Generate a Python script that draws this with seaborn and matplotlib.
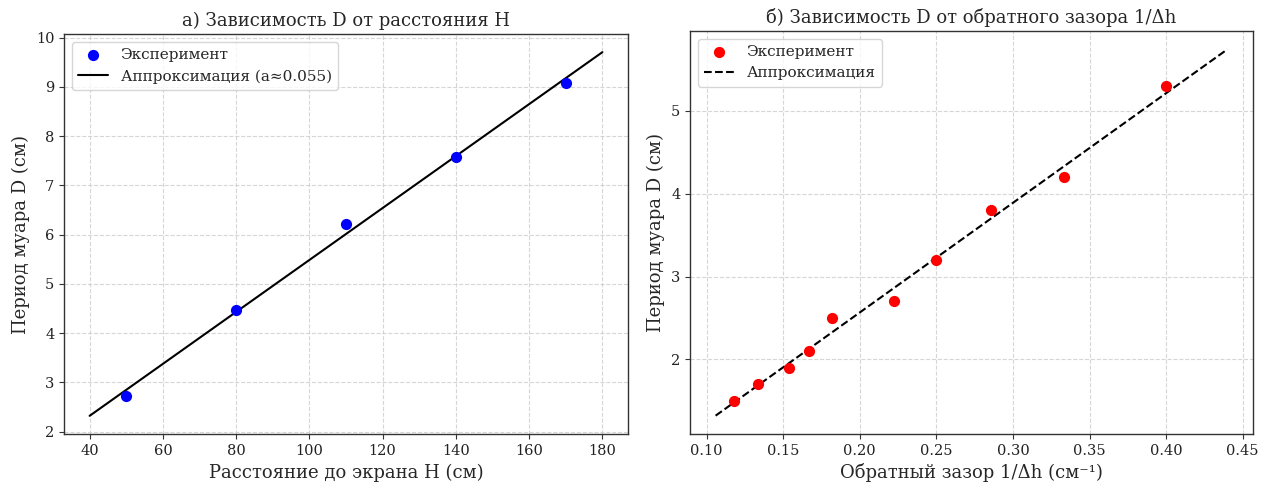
import numpy as np
import pandas as pd
import matplotlib
matplotlib.use("Agg")
import matplotlib.pyplot as plt
import seaborn as sns

# (а) period vs screen distance
distance_h = [50, 80, 110, 140, 170]
period_a = [2.73, 4.46, 6.21, 7.58, 9.08]

# (б) period vs inverse gap
inv_gap = [1 / 8.5, 1 / 7.5, 1 / 6.5, 1 / 6.0, 1 / 5.5, 1 / 4.5, 1 / 4.0, 1 / 3.5, 1 / 3.0, 1 / 2.5]
period_b = [1.5, 1.7, 1.9, 2.1, 2.5, 2.7, 3.2, 3.8, 4.2, 5.3]

sns.set_theme(style="ticks")
plt.rcParams['font.family'] = ['DejaVu Serif', 'DejaVu Sans']
plt.rcParams['axes.edgecolor'] = '#333333'
plt.rcParams['axes.linewidth'] = 1.0
plt.rcParams['xtick.color'] = '#333333'
plt.rcParams['ytick.color'] = '#333333'
plt.rcParams['xtick.labelcolor'] = '#222222'
plt.rcParams['ytick.labelcolor'] = '#222222'

fig = plt.figure(figsize=(12.72, 4.86), dpi=100)
ax1 = fig.add_axes([64 / 1272, 52 / 486, 564 / 1272, 400 / 486])
ax2 = fig.add_axes([690 / 1272, 52 / 486, 563 / 1272, 403 / 486])

# left panel
df_a = pd.DataFrame({'H': distance_h, 'D': period_a})
k_a, b_a = np.polyfit(df_a['H'], df_a['D'], 1)
fit_x_a = np.linspace(40, 180, 100)
sns.scatterplot(data=df_a, x='H', y='D', ax=ax1, color='blue', s=65, linewidth=0,
                label='Эксперимент', zorder=3)
sns.lineplot(x=fit_x_a, y=k_a * fit_x_a + b_a, ax=ax1, color='black', linewidth=1.5,
             label='Аппроксимация (a≈0.055)')
ax1.set_title('а) Зависимость D от расстояния H', fontsize=13)
ax1.set_xlabel('Расстояние до экрана H (см)', fontsize=13)
ax1.set_ylabel('Период муара D (см)', fontsize=13)

# right panel
df_b = pd.DataFrame({'x': inv_gap, 'D': period_b})
k_b, b_b = np.polyfit(df_b['x'], df_b['D'], 1)
fit_x_b = np.linspace(min(inv_gap) * 0.9, max(inv_gap) * 1.1, 100)
sns.scatterplot(data=df_b, x='x', y='D', ax=ax2, color='red', s=65, linewidth=0,
                label='Эксперимент', zorder=3)
sns.lineplot(x=fit_x_b, y=k_b * fit_x_b + b_b, ax=ax2, color='black', linewidth=1.5,
             linestyle='--', label='Аппроксимация')
ax2.set_title('б) Зависимость D от обратного зазора 1/Δh', fontsize=13)
ax2.set_xlabel('Обратный зазор 1/Δh (см⁻¹)', fontsize=13)
ax2.set_ylabel('Период муара D (см)', fontsize=13)
ax2.set_yticks([2, 3, 4, 5])

for ax in (ax1, ax2):
    ax.grid(True, linestyle='--', color='#cccccc', linewidth=0.8, alpha=0.8)
    ax.tick_params(labelsize=10.5, length=3.5, width=0.8)
    ax.legend(loc='upper left', fontsize=11, frameon=True)
    for s in ax.spines.values():
        s.set_visible(True)

fig.savefig('out.png', dpi=100)
plt.close(fig)
